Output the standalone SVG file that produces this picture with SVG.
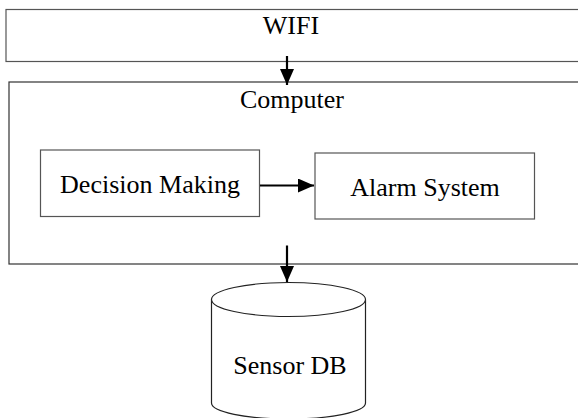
<svg xmlns="http://www.w3.org/2000/svg" width="578" height="418" viewBox="0 0 578 418">
  <style>
    .box { fill: #ffffff; stroke: #555555; stroke-width: 1.2; }
    .label { font-family: "Liberation Serif", "Times New Roman", serif; font-size: 26px; fill: #000000; text-anchor: middle; }
    .link { stroke: #000000; stroke-width: 2.2; fill: none; }
  </style>
  <defs>
    <marker id="head" viewBox="0 0 16 14" refX="16" refY="7" markerWidth="16" markerHeight="14" markerUnits="userSpaceOnUse" orient="auto">
      <path d="M0,0 L16,7 L0,14 Z" fill="#000000"/>
    </marker>
  </defs>

  <rect width="578" height="418" fill="#ffffff"/>

  <g id="wifi">
    <rect class="box" x="6" y="9.5" width="590" height="52"/>
    <text class="label" x="291" y="34">WIFI</text>
  </g>

  <g id="computer">
    <rect class="box" x="9" y="82" width="590" height="182" style="stroke:#333333"/>
    <text class="label" x="292" y="108">Computer</text>
  </g>

  <g id="decision-making">
    <rect class="box" x="40.5" y="150" width="219" height="66.5"/>
    <text class="label" x="150" y="193">Decision Making</text>
  </g>

  <g id="alarm-system">
    <rect class="box" x="315" y="153" width="219.5" height="66"/>
    <text class="label" x="425" y="196">Alarm System</text>
  </g>

  <g id="sensor-db">
    <path class="box" style="stroke:#222222" d="M211.5,299.5 L211.5,403 A77,16 0 0 0 365.5,403 L365.5,299.5"/>
    <ellipse class="box" style="stroke:#222222" cx="288.5" cy="299.5" rx="77" ry="17"/>
    <text class="label" x="290" y="374">Sensor DB</text>
  </g>

  <g id="connectors">
    <line class="link" x1="287" y1="56" x2="287" y2="85" marker-end="url(#head)"/>
    <line class="link" x1="260" y1="185.5" x2="314" y2="185.5" marker-end="url(#head)"/>
    <line class="link" x1="287" y1="245.5" x2="287" y2="282" marker-end="url(#head)"/>
  </g>
</svg>
